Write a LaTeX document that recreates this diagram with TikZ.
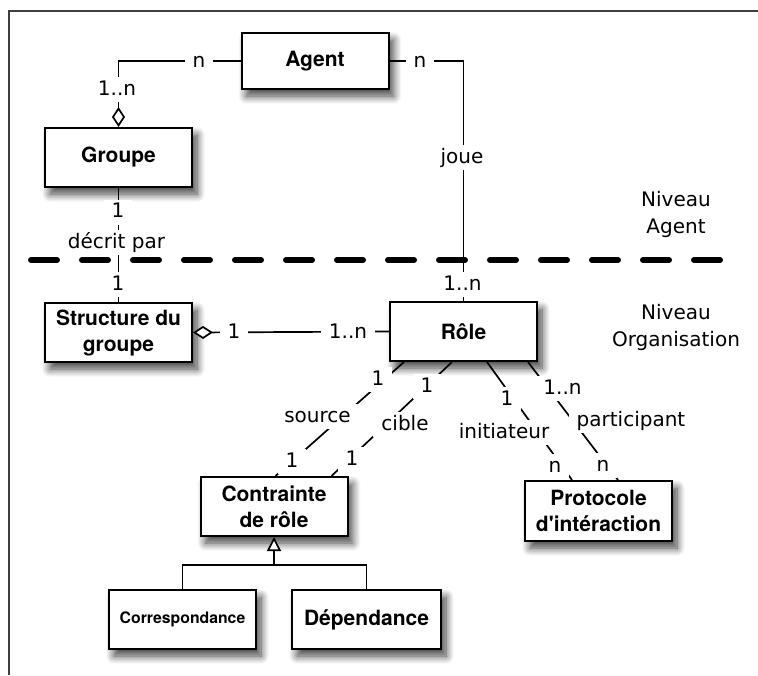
\documentclass[tikz,border=0pt]{standalone}
\usepackage{fontspec}
\setmainfont{DejaVu Sans}
\newfontfamily\boxfont{TeX Gyre Heros}
\usetikzlibrary{arrows.meta,shadows.blur,calc}

\begin{document}
\begin{tikzpicture}[x=0.5pt,y=-0.5pt,
  entity/.style={draw=black, line width=1pt, fill=white,
    font=\boxfont\bfseries\fontsize{10.5}{13}\selectfont, align=center,
    minimum width=73.5pt, minimum height=29.5pt, inner sep=0pt,
    blur shadow={shadow xshift=2.5pt, shadow yshift=-3.5pt,
      shadow blur radius=4pt, shadow blur steps=10, shadow opacity=75}},
  link/.style={line width=0.85pt, black},
  card/.style={fill=white, inner xsep=4pt, inner ysep=1.5pt,
    text height=7.5pt, text depth=2pt, font=\fontsize{10}{12}\selectfont},
  level/.style={align=center, font=\fontsize{10}{13.5}\selectfont},
  frame/.style={line width=1.1pt, black!75},
  levelsep/.style={line width=3pt, line cap=round, dash pattern=on 13pt off 12.5pt},
  agg/.style={{Diamond[open, fill=white, length=10pt, width=6.5pt]}-},
  gen/.style={-{Triangle[open, fill=white, length=7pt, width=7pt]}}]

\useasboundingbox (0,0) rectangle (758,675);

% page frame and level separator
\draw[frame] (758,11) -- (9,11) -- (9,675);
\draw[levelsep] (31,260) -- (732,260);

% classes
\node[entity, minimum height=28pt] (agent) at (315,61) {Agent};
\node[entity] (groupe) at (118.5,157.5) {Groupe};
\node[entity] (struct) at (118.5,332.5) {Structure du\\groupe};
\node[entity] (role) at (463.5,331.5) {Rôle};
\node[entity] (contr) at (274,506.5) {Contrainte\\de rôle};
\node[entity, minimum height=30pt] (proto) at (598.5,511) {Protocole\\d'intéraction};
\node[entity, font=\boxfont\bfseries\fontsize{7.9}{10}\selectfont] (corr) at (182.5,619.5) {Correspondance};
\node[entity, minimum width=74.5pt] (dep) at (366.5,619.5) {Dépendance};

% associations
\draw[link, agg] (groupe.north) |- (agent.west);
\draw[link] (agent.east) -| (role.north);
\draw[link] (groupe.south) -- (struct.north);
\draw[link, agg] (struct.east) -- (role.west);
\draw[link] ($(role.south west)+(15,0)$) -- ($(contr.north west)+(76,0)$);
\draw[link] ($(role.south west)+(63,0)$) -- ($(contr.north west)+(132,0)$);
\draw[link] ($(role.south west)+(98,0)$) -- ($(proto.north west)+(48,0)$);
\draw[link] ($(role.south west)+(139,0)$) -- ($(proto.north west)+(94,0)$);

% specialisation
\coordinate (gjoin) at ($(contr.south)+(0,28)$);
\draw[link] (corr.north) -- (corr.north |- gjoin) -- (dep.north |- gjoin) -- (dep.north);
\draw[link, gen] (gjoin) -- (contr.south);

% role names and multiplicities
\node[card] (mgn) at (117,89.5) {1..n};
\node[card] (mag) at (199,62) {n};
\node[card] (mar) at (420,62) {n};
\node[card] (joue) at (462,157.5) {joue};
\node[card] (mra) at (462.5,284.5) {1..n};
\node[card] (mgs) at (118,212) {1};
\node[card] (decrit) at (116.5,242.5) {décrit par};
\node[card] (msg) at (118,284.5) {1};
\node[card] (msr) at (234,332.5) {1};
\node[card] (mrs) at (348,332.5) {1..n};
\node[card] (msrc) at (378,379.5) {1};
\node[card] (source) at (317.5,416.5) {source};
\node[card] (msrcc) at (292,461.5) {1};
\node[card] (mcib) at (427,386.5) {1};
\node[card] (cible) at (405,424.5) {cible};
\node[card] (mcibc) at (352,459.5) {1};
\node[card] (mini) at (507,399.5) {1};
\node[card] (initiateur) at (504,432.5) {initiateur};
\node[card] (minip) at (555,466.5) {n};
\node[card] (mpar) at (562.5,388.5) {1..n};
\node[card] (participant) at (631,420.5) {participant};
\node[card] (mparp) at (603,465.5) {n};

% level captions
\node[level] (nagent) at (676,214) {Niveau\\Agent};
\node[level] (norga) at (676,327) {Niveau\\Organisation};
\end{tikzpicture}
\end{document}
